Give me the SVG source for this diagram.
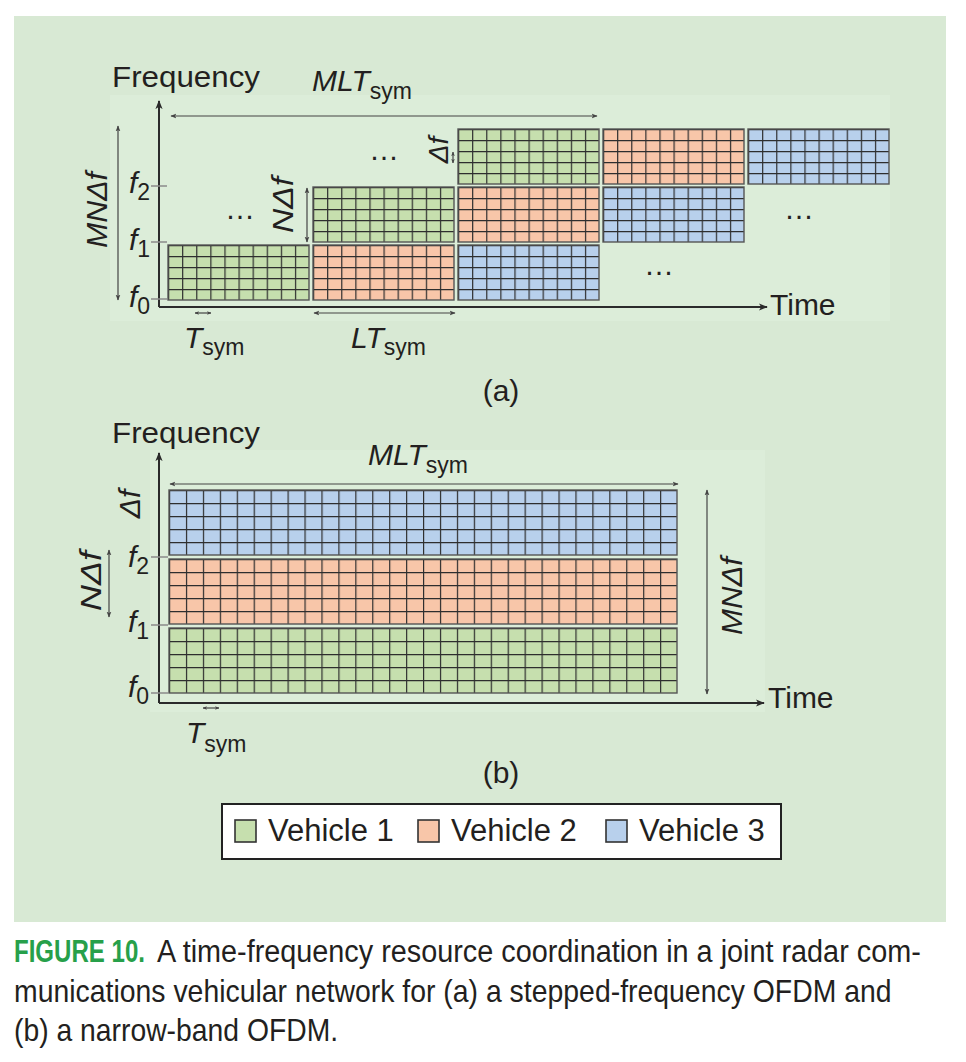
<svg xmlns="http://www.w3.org/2000/svg" width="966" height="1062" viewBox="0 0 966 1062">
<style>
text{font-family:"Liberation Sans",Arial,Helvetica,sans-serif;fill:#231f20}
.lab{font-size:30px}
.it{font-style:italic}
.sub{font-style:normal;font-size:23px}
.ax{stroke:#2b2b2b;stroke-width:2;fill:none}
.dim{stroke:#444;stroke-width:1.2;fill:none}
.tick{stroke:#8a8a8a;stroke-width:1.5}
.blk{stroke:#555;stroke-width:1.4}
.cap{font-size:31px}
.dots{font-size:30px}
</style>
<defs>
<marker id="axh" viewBox="0 0 10 10" refX="9" refY="5" markerWidth="9" markerHeight="9" markerUnits="userSpaceOnUse" orient="auto-start-reverse"><path d="M0,1 L10,5 L0,9 L2.5,5 z" fill="#2b2b2b"/></marker>
<marker id="dh" viewBox="0 0 10 10" refX="9" refY="5" markerWidth="6" markerHeight="6" markerUnits="userSpaceOnUse" orient="auto-start-reverse"><path d="M0,1 L10,5 L0,9 L2.5,5 z" fill="#444"/></marker>
<marker id="sh" viewBox="0 0 10 10" refX="9" refY="5" markerWidth="4.5" markerHeight="4.5" markerUnits="userSpaceOnUse" orient="auto-start-reverse"><path d="M0,1 L10,5 L0,9 L2.5,5 z" fill="#444"/></marker>
<pattern id="gA" width="14.1" height="11" patternUnits="userSpaceOnUse"><rect width="14.1" height="11" fill="#c6dfae"/><path d="M0.6,0V11M0,0.6H14.1" stroke="#2e2e2e" stroke-width="1.2"/></pattern>
<pattern id="oA" width="14.1" height="11" patternUnits="userSpaceOnUse"><rect width="14.1" height="11" fill="#f8c6a9"/><path d="M0.6,0V11M0,0.6H14.1" stroke="#2e2e2e" stroke-width="1.2"/></pattern>
<pattern id="bA" width="14.1" height="11" patternUnits="userSpaceOnUse"><rect width="14.1" height="11" fill="#b8d0ec"/><path d="M0.6,0V11M0,0.6H14.1" stroke="#2e2e2e" stroke-width="1.2"/></pattern>
<pattern id="gB" width="16.933" height="13" patternUnits="userSpaceOnUse"><rect width="16.933" height="13" fill="#c6dfae"/><path d="M0.6,0V13M0,0.6H16.933" stroke="#2e2e2e" stroke-width="1.2"/></pattern>
<pattern id="oB" width="16.933" height="13" patternUnits="userSpaceOnUse"><rect width="16.933" height="13" fill="#f8c6a9"/><path d="M0.6,0V13M0,0.6H16.933" stroke="#2e2e2e" stroke-width="1.2"/></pattern>
<pattern id="bB" width="16.933" height="13" patternUnits="userSpaceOnUse"><rect width="16.933" height="13" fill="#b8d0ec"/><path d="M0.6,0V13M0,0.6H16.933" stroke="#2e2e2e" stroke-width="1.2"/></pattern>
</defs>

<rect x="14" y="16" width="932" height="906" fill="#d8e9d4"/>
<rect x="110" y="95" width="780" height="226" fill="#dcedd9"/>
<rect x="150" y="450" width="615" height="262" fill="#dcedd9"/>

<!-- (a) blocks -->
<g id="a-v1-t1" transform="translate(168,245)"><rect width="141" height="55" fill="url(#gA)" class="blk"/></g>
<g id="a-v2-t2" transform="translate(313,245)"><rect width="141" height="55" fill="url(#oA)" class="blk"/></g>
<g id="a-v1-t2" transform="translate(313,187)"><rect width="141" height="55" fill="url(#gA)" class="blk"/></g>
<g id="a-v3-t3" transform="translate(458,245)"><rect width="141" height="55" fill="url(#bA)" class="blk"/></g>
<g id="a-v2-t3" transform="translate(458,187)"><rect width="141" height="55" fill="url(#oA)" class="blk"/></g>
<g id="a-v1-t3" transform="translate(458,129)"><rect width="141" height="55" fill="url(#gA)" class="blk"/></g>
<g id="a-v3-t4" transform="translate(603,187)"><rect width="141" height="55" fill="url(#bA)" class="blk"/></g>
<g id="a-v2-t4" transform="translate(603,129)"><rect width="141" height="55" fill="url(#oA)" class="blk"/></g>
<g id="a-v3-t5" transform="translate(748,129)"><rect width="141" height="55" fill="url(#bA)" class="blk"/></g>

<!-- (b) blocks -->
<g id="b-v3" transform="translate(169,490)"><rect width="508" height="65" fill="url(#bB)" class="blk"/></g>
<g id="b-v2" transform="translate(169,559)"><rect width="508" height="65" fill="url(#oB)" class="blk"/></g>
<g id="b-v1" transform="translate(169,628)"><rect width="508" height="65" fill="url(#gB)" class="blk"/></g>

<g id="connectors">
<!-- (a) axes -->
<path class="ax" d="M159,307 V101" marker-end="url(#axh)"/>
<path class="ax" d="M159,307 H767" marker-end="url(#axh)"/>
<path class="tick" d="M151,186 H167 M151,242 H167 M151,299 H167"/>
<path class="dim" d="M171,116 H597" marker-start="url(#dh)" marker-end="url(#dh)"/>
<path class="dim" d="M118,126 V300" marker-start="url(#dh)" marker-end="url(#dh)"/>
<path class="dim" d="M307,188 V242" marker-start="url(#dh)" marker-end="url(#dh)"/>
<path class="dim" d="M453,152 V163" marker-start="url(#sh)" marker-end="url(#sh)"/>
<path class="dim" d="M195,313 H211" marker-start="url(#sh)" marker-end="url(#sh)"/>
<path class="dim" d="M314,313 H455" marker-start="url(#dh)" marker-end="url(#dh)"/>
<!-- (b) axes -->
<path class="ax" d="M159,703 V453" marker-end="url(#axh)"/>
<path class="ax" d="M159,703 H764" marker-end="url(#axh)"/>
<path class="tick" d="M151,557 H168 M151,625 H168 M151,693 H168"/>
<path class="dim" d="M170,484 H678" marker-start="url(#dh)" marker-end="url(#dh)"/>
<path class="dim" d="M109,550 V617" marker-start="url(#dh)" marker-end="url(#dh)"/>
<path class="dim" d="M707,490 V694" marker-start="url(#dh)" marker-end="url(#dh)"/>
<path class="dim" d="M203,708 H219" marker-start="url(#sh)" marker-end="url(#sh)"/>
</g>

<!-- (a) labels -->
<g id="a-labels">
<text class="lab" x="112" y="87" textLength="148" lengthAdjust="spacingAndGlyphs">Frequency</text>
<text class="lab it" x="312" y="91">MLT<tspan class="sub" dy="8">sym</tspan></text>
<text class="lab" x="770" y="315">Time</text>
<text class="lab it" x="129" y="193">f<tspan class="sub" dy="7">2</tspan></text>
<text class="lab it" x="129" y="250">f<tspan class="sub" dy="7">1</tspan></text>
<text class="lab it" x="129" y="307">f<tspan class="sub" dy="7">0</tspan></text>
<text class="lab it" transform="translate(107,210) rotate(-90)" text-anchor="middle" textLength="76" lengthAdjust="spacingAndGlyphs">MNΔf</text>
<text class="lab it" transform="translate(293,205) rotate(-90)" text-anchor="middle" textLength="56" lengthAdjust="spacingAndGlyphs">NΔf</text>
<text class="it" font-size="28" transform="translate(448,150) rotate(-90)" text-anchor="middle">Δf</text>
<text class="lab it" x="184" y="348" font-size="32">T<tspan class="sub" dy="7">sym</tspan></text>
<text class="lab it" x="351" y="348" font-size="32">LT<tspan class="sub" dy="7">sym</tspan></text>
<text class="dots" x="240" y="219" text-anchor="middle">…</text>
<text class="dots" x="384" y="160" text-anchor="middle">…</text>
<text class="dots" x="659" y="275" text-anchor="middle">…</text>
<text class="dots" x="799" y="219" text-anchor="middle">…</text>
<text class="lab" x="501" y="401" text-anchor="middle" font-size="31">(a)</text>
</g>

<!-- (b) labels -->
<g id="b-labels">
<text class="lab" x="112" y="443" textLength="148" lengthAdjust="spacingAndGlyphs">Frequency</text>
<text class="lab it" x="368" y="465">MLT<tspan class="sub" dy="8">sym</tspan></text>
<text class="lab" x="768" y="708">Time</text>
<text class="lab it" x="128" y="567">f<tspan class="sub" dy="7">2</tspan></text>
<text class="lab it" x="128" y="632">f<tspan class="sub" dy="7">1</tspan></text>
<text class="lab it" x="128" y="697">f<tspan class="sub" dy="7">0</tspan></text>
<text class="lab it" transform="translate(140,504) rotate(-90)" text-anchor="middle">Δf</text>
<text class="lab it" transform="translate(101,581) rotate(-90)" text-anchor="middle" textLength="60" lengthAdjust="spacingAndGlyphs">NΔf</text>
<text class="lab it" transform="translate(742,596) rotate(-90)" text-anchor="middle" textLength="78" lengthAdjust="spacingAndGlyphs">MNΔf</text>
<text class="lab it" x="186" y="743" font-size="32">T<tspan class="sub" dy="9">sym</tspan></text>
<text class="lab" x="501" y="783" text-anchor="middle" font-size="31">(b)</text>
</g>

<!-- legend -->
<g id="legend">
<rect x="222" y="804" width="559" height="55" fill="#fff" stroke="#222" stroke-width="2"/>
<rect x="235" y="820" width="21" height="22" fill="#c6dfae" stroke="#333" stroke-width="1.6"/>
<text x="268" y="841" font-size="31">Vehicle 1</text>
<rect x="418" y="820" width="21" height="22" fill="#f8c6a9" stroke="#333" stroke-width="1.6"/>
<text x="451" y="841" font-size="31">Vehicle 2</text>
<rect x="606" y="820" width="21" height="22" fill="#b8d0ec" stroke="#333" stroke-width="1.6"/>
<text x="639" y="841" font-size="31">Vehicle 3</text>
</g>

<!-- caption -->
<g id="caption">
<text class="cap" transform="translate(14,962) scale(0.775,1)" font-weight="bold" style="fill:#27a04a" textLength="169" lengthAdjust="spacingAndGlyphs">FIGURE 10.</text>
<text class="cap" transform="translate(157,962) scale(0.928,1)" textLength="823" lengthAdjust="spacingAndGlyphs">A time-frequency resource coordination in a joint radar com-</text>
<text class="cap" transform="translate(14,1002) scale(0.918,1)" textLength="956" lengthAdjust="spacingAndGlyphs">munications vehicular network for (a) a stepped-frequency OFDM and</text>
<text class="cap" transform="translate(14,1041) scale(0.913,1)" textLength="355" lengthAdjust="spacingAndGlyphs">(b) a narrow-band OFDM.</text>
</g>
</svg>
